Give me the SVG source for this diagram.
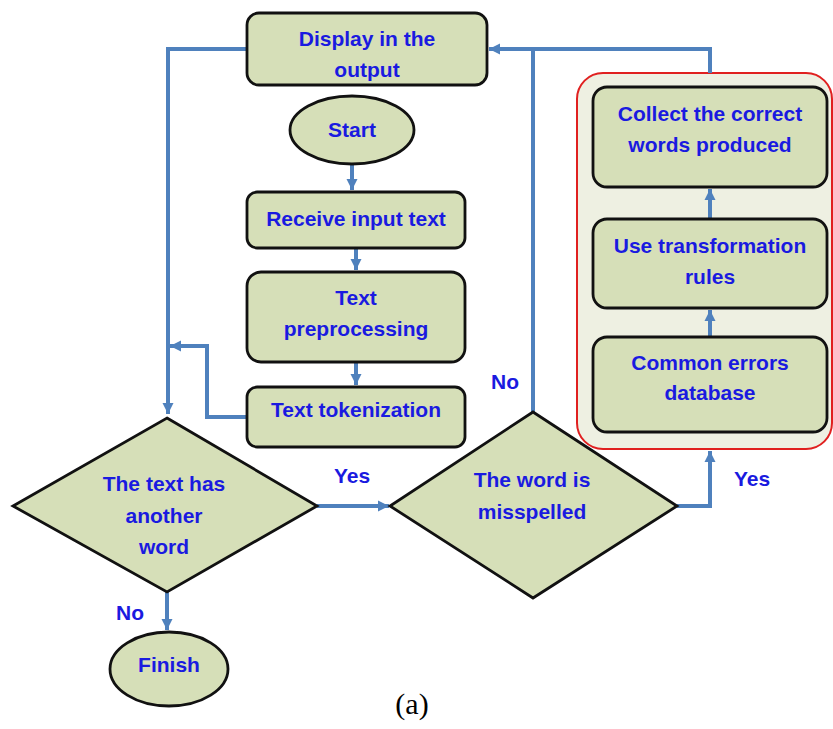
<svg xmlns="http://www.w3.org/2000/svg" width="833" height="729" viewBox="0 0 833 729">
<defs>
<style>
.n{fill:#D6DFB8;stroke:#111;stroke-width:2.8}
.t{font-family:"Liberation Sans",Arial,sans-serif;font-weight:bold;font-size:21px;fill:#1A1AE0;text-anchor:middle}
.c{fill:none;stroke:#4F81BD;stroke-width:4}
</style>
<marker id="ah" markerUnits="userSpaceOnUse" markerWidth="14" markerHeight="14" refX="11" refY="7" orient="auto">
<path d="M0,1.5 L11,7 L0,12.5 Z" fill="#4F81BD"/>
</marker>
</defs>
<rect width="833" height="729" fill="#fff"/>
<g id="group-box">
<rect x="577" y="73" width="255" height="376" rx="26" fill="#EEF0E2" stroke="#E02020" stroke-width="2"/>
</g>
<g id="connectors">
<path class="c" d="M247,49 H168 V414" marker-end="url(#ah)"/>
<path class="c" d="M247,417 H207 V346 H170" marker-end="url(#ah)"/>
<path class="c" d="M352,164 V190" marker-end="url(#ah)"/>
<path class="c" d="M356,248 V270" marker-end="url(#ah)"/>
<path class="c" d="M356,362 V385" marker-end="url(#ah)"/>
<path class="c" d="M317,506 H389" marker-end="url(#ah)"/>
<path class="c" d="M533,412 V49"/>
<path class="c" d="M710,73 V49 H489" marker-end="url(#ah)"/>
<path class="c" d="M677,506 H710 V451" marker-end="url(#ah)"/>
<path class="c" d="M710,337 V310" marker-end="url(#ah)"/>
<path class="c" d="M710,219 V189" marker-end="url(#ah)"/>
<path class="c" d="M167,592 V630" marker-end="url(#ah)"/>
</g>
<g id="display">
<rect class="n" x="247" y="13" width="240" height="72" rx="12"/>
<text class="t" x="367" y="46">Display in the</text>
<text class="t" x="367" y="77">output</text>
</g>
<g id="start">
<ellipse class="n" cx="352" cy="130" rx="62" ry="34"/>
<text class="t" x="352" y="137">Start</text>
</g>
<g id="receive">
<rect class="n" x="247" y="192" width="218" height="56" rx="10"/>
<text class="t" x="356" y="226">Receive input text</text>
</g>
<g id="preprocessing">
<rect class="n" x="247" y="272" width="218" height="90" rx="14"/>
<text class="t" x="356" y="305">Text</text>
<text class="t" x="356" y="336">preprocessing</text>
</g>
<g id="tokenization">
<rect class="n" x="247" y="387" width="218" height="60" rx="10"/>
<text class="t" x="356" y="417">Text tokenization</text>
</g>
<g id="has-word">
<polygon class="n" points="167,418 317,506 167,592 13,506"/>
<text class="t" x="164" y="491">The text has</text>
<text class="t" x="164" y="523">another</text>
<text class="t" x="164" y="554">word</text>
</g>
<g id="misspelled">
<polygon class="n" points="533,412 677,506 533,598 390,506"/>
<text class="t" x="532" y="487">The word is</text>
<text class="t" x="532" y="519">misspelled</text>
</g>
<g id="collect">
<rect class="n" x="593" y="87" width="234" height="100" rx="14"/>
<text class="t" x="710" y="121">Collect the correct</text>
<text class="t" x="710" y="152">words produced</text>
</g>
<g id="rules">
<rect class="n" x="593" y="219" width="234" height="89" rx="14"/>
<text class="t" x="710" y="253">Use transformation</text>
<text class="t" x="710" y="284">rules</text>
</g>
<g id="database">
<rect class="n" x="593" y="337" width="234" height="95" rx="14"/>
<text class="t" x="710" y="370">Common errors</text>
<text class="t" x="710" y="400">database</text>
</g>
<g id="finish">
<ellipse class="n" cx="169" cy="669" rx="59" ry="37"/>
<text class="t" x="169" y="672">Finish</text>
</g>
<g id="labels">
<text class="t" x="352" y="483">Yes</text>
<text class="t" x="752" y="486">Yes</text>
<text class="t" x="130" y="620">No</text>
<text class="t" x="505" y="389">No</text>
<text x="412" y="714" font-family="'Liberation Serif','Times New Roman',serif" font-size="30" fill="#000" text-anchor="middle">(a)</text>
</g>
</svg>
